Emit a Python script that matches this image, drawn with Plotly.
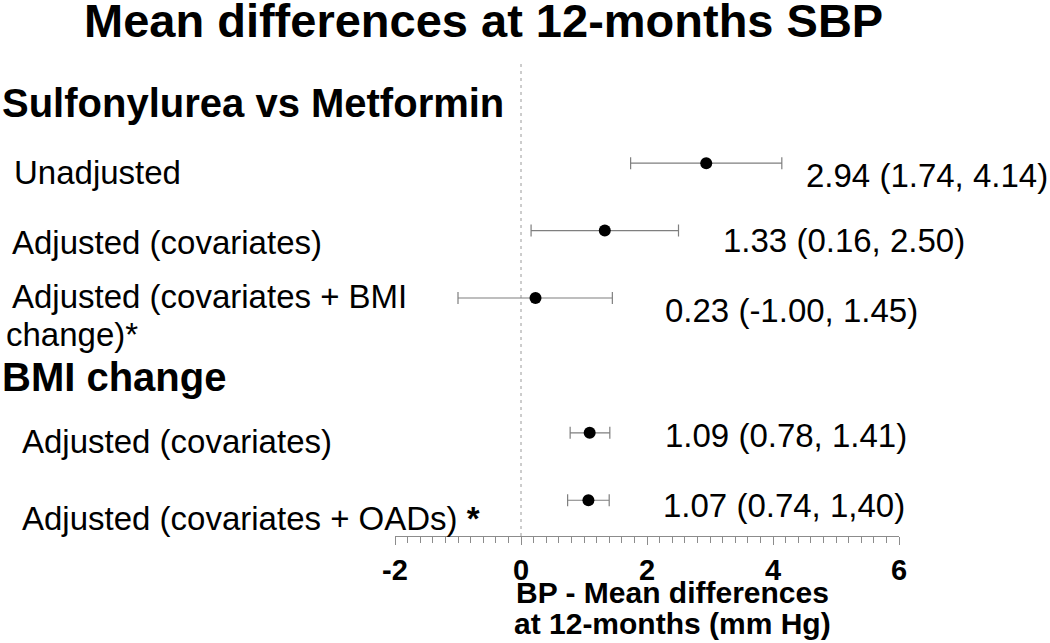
import plotly.graph_objects as go

# ---- data ----
group_names = ["Sulfonylurea vs Metformin", "BMI change"]
group_rows = [
    ["Unadjusted", "Adjusted (covariates)", "Adjusted (covariates + BMI change)*"],
    ["Adjusted (covariates)", "Adjusted (covariates + OADs) *"],
]
estimates = [2.94, 1.33, 0.23, 1.09, 1.07]
ci_low = [1.74, 0.16, -1.00, 0.78, 0.74]
ci_high = [4.14, 2.50, 1.45, 1.41, 1.40]
value_labels = ["2.94 (1.74, 4.14)", "1.33 (0.16, 2.50)", "0.23 (-1.00, 1.45)",
                "1.09 (0.78, 1.41)", "1.07 (0.74, 1,40)"]
x_ticks = [-2, 0, 2, 4, 6]

# ---- layout helpers (positions / styles) ----
FONT = "Liberation Sans, Arial, sans-serif"
W, H = 1050, 643
PLOT_TOP, PLOT_BOTTOM = 60, 536
X_LEFT, X_RIGHT = 395, 899

# slot positions: each group header occupies one slot, followed by its rows
header_slots, row_slots, row_names = [], [], []
s = 0
for g, rows in zip(group_names, group_rows):
    header_slots.append(s)
    s += 1
    for r in rows:
        row_slots.append(s)
        row_names.append(r)
        s += 1

value_label_x = [4.49, 3.17, 2.26, 2.26, 2.22]   # left edges of value labels (data units)
value_label_dy = [-12, -10, -12, -3, -5]
row_label_x = [12, 10, 10, 20, 20]
row_label_dy = [-9, -12, 2, -9, -18]
header_dy = [-7, -12]

fig = go.Figure()
fig.add_trace(go.Scatter(
    x=estimates, y=row_slots, mode="markers",
    marker=dict(color="black", size=12, symbol="circle"),
    error_x=dict(type="data", symmetric=False,
                 array=[h - e for h, e in zip(ci_high, estimates)],
                 arrayminus=[e - l for e, l in zip(estimates, ci_low)],
                 color="#7f7f7f", thickness=1.2, width=6),
    showlegend=False, hoverinfo="skip",
))

ann = []
# title
ann.append(dict(text="<b>Mean differences at 12-months SBP</b>", x=483 / W, y=1 - 21 / H,
                xref="paper", yref="paper", xanchor="center", yanchor="middle",
                showarrow=False, font=dict(family=FONT, size=47, color="black")))
# group headers
for g, sl, dy in zip(group_names, header_slots, header_dy):
    ann.append(dict(text=f"<b>{g}</b>", x=0, y=sl, xref="paper", yref="y",
                    xanchor="left", yanchor="middle", yshift=dy, showarrow=False,
                    font=dict(family=FONT, size=40, color="black")))
# row labels
for i, (name, sl) in enumerate(zip(row_names, row_slots)):
    if name == "Adjusted (covariates + BMI change)*":
        parts = [("Adjusted (covariates + BMI", row_label_x[i], row_label_dy[i]),
                 ("change)*", 4, row_label_dy[i] - 38)]
    elif name.endswith(" *"):
        parts = [(name[:-2] + " <b>*</b>", row_label_x[i], row_label_dy[i])]
    else:
        parts = [(name, row_label_x[i], row_label_dy[i])]
    for txt, px, dy in parts:
        ann.append(dict(text=txt, x=px / W, y=sl, xref="paper", yref="y",
                        xanchor="left", yanchor="middle", yshift=dy, showarrow=False,
                        font=dict(family=FONT, size=33, color="black")))
# value labels
for lab, lx, sl, dy in zip(value_labels, value_label_x, row_slots, value_label_dy):
    ann.append(dict(text=lab, x=lx, y=sl, xref="x", yref="y", xanchor="left",
                    yanchor="middle", yshift=dy, showarrow=False,
                    font=dict(family=FONT, size=33, color="black")))
# x-axis title (two lines)
for txt, py in [("<b>BP - Mean differences</b>", 592), ("<b>at 12-months (mm Hg)</b>", 623)]:
    ann.append(dict(text=txt, x=672 / W, y=1 - py / H, xref="paper", yref="paper",
                    xanchor="center", yanchor="middle", showarrow=False,
                    font=dict(family=FONT, size=30, color="black")))

fig.update_layout(
    width=W, height=H, autosize=False,
    margin=dict(l=0, r=0, t=0, b=0, pad=0, autoexpand=False),
    paper_bgcolor="white", plot_bgcolor="white",
    annotations=ann,
    xaxis=dict(domain=[X_LEFT / W, X_RIGHT / W], range=[-2, 6], tickvals=x_ticks,
               ticktext=[str(t) for t in x_ticks], automargin=False,
               showline=True, linecolor="#8c8c8c", linewidth=1,
               ticks="outside", ticklen=8, tickcolor="#8c8c8c", tickwidth=1,
               minor=dict(dtick=0.2, ticks="outside", ticklen=6, tickcolor="#8c8c8c", showgrid=False),
               showgrid=False, zeroline=False,
               tickfont=dict(family=FONT, size=29, color="black", weight="bold")),
    yaxis=dict(domain=[1 - PLOT_BOTTOM / H, 1 - PLOT_TOP / H], range=[6.53, -0.53],
               automargin=False,
               showticklabels=False, showgrid=False, zeroline=False, showline=False, ticks=""),
    shapes=[dict(type="line", x0=0, x1=0, xref="x", y0=0, y1=1, yref="y domain",
                 line=dict(color="#9a9a9a", width=1, dash="3px,4px"), layer="below")],
)

fig.write_html("out.html", config={"displayModeBar": False},
               post_script="document.body.style.margin='0';document.body.style.overflow='hidden';")
